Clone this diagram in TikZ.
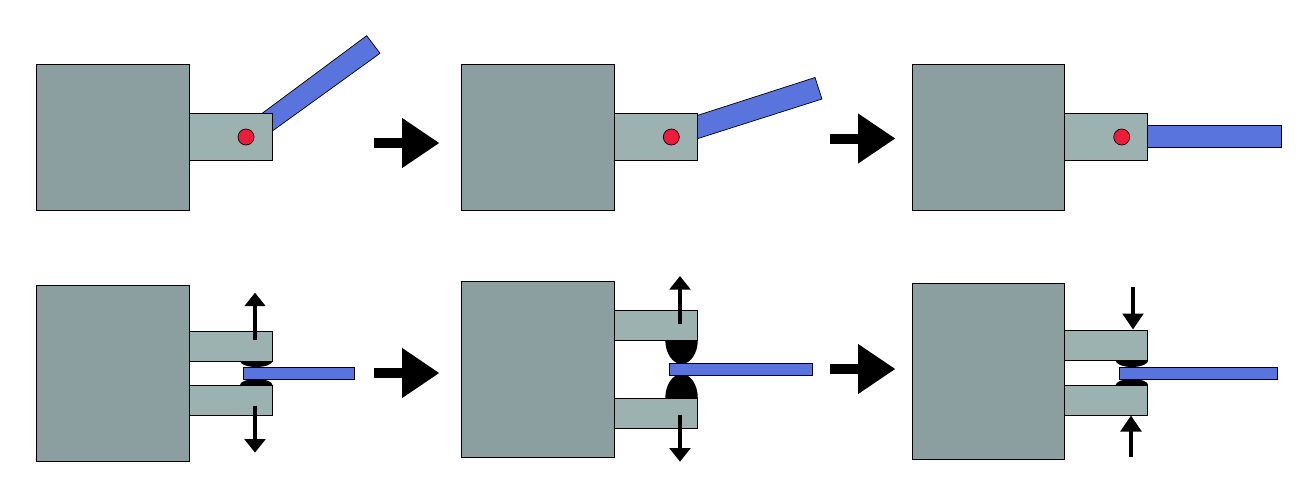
\documentclass[tikz,border=0pt]{standalone}
\usepackage{tikz}
\usetikzlibrary{arrows.meta}
\definecolor{basegrey}{RGB}{140,159,160}
\definecolor{armgrey}{RGB}{155,178,176}
\definecolor{bladeblue}{RGB}{90,116,222}
\definecolor{pinred}{RGB}{238,28,58}
\tikzset{
  basebox/.style={draw=black, line width=0.7pt, fill=basegrey},
  armbox/.style={draw=black, line width=0.7pt, fill=armgrey},
  blade/.style={draw=black, line width=0.7pt, fill=bladeblue},
  pinhole/.style={draw=black, line width=0.7pt, fill=pinred},
  blob/.style={fill=black, draw=none},
  bigarrow/.style={-{Triangle[length=37.5pt,width=47.5pt]}, line width=10pt, black},
  smallarrow/.style={-{Triangle[length=13.5pt,width=20.5pt]}, line width=3.8pt, black},
  pressarrow/.style={-{Triangle[length=16pt,width=20.5pt]}, line width=3.8pt, black},
}
% half ellipse: left x, right x, flat side y, tip y
\newcommand{\gripblob}[4]{%
  \pgfmathsetmacro{\xm}{(#1+#2)/2}
  \pgfmathsetmacro{\xa}{#1+0.225*(#2-#1)}
  \pgfmathsetmacro{\xb}{#2-0.225*(#2-#1)}
  \pgfmathsetmacro{\yc}{#3+0.55*(#4-#3)}
  \fill[blob] (#1,#3) .. controls (#1,\yc) and (\xa,#4) .. (\xm,#4)
              .. controls (\xb,#4) and (#2,\yc) .. (#2,#3) -- cycle;
}
\begin{document}
\begin{tikzpicture}[x=1pt, y=-1pt]
  \useasboundingbox (0,0) rectangle (1299,491);

  % ---- top row: blades go behind the arms ----
  \draw[blade] (246.6,124.9) -- (366.7,35.7) -- (380,53.3) -- (255.9,142.9) -- cycle;
  \draw[blade] (677,122) -- (815,77.5) -- (822,99) -- (677,145.2) -- cycle;
  \draw[blade] (1130,125) rectangle (1281,147);
  \foreach \dx in {0,425.3,875.7} {
    \begin{scope}[shift={(\dx,0)}]
      \draw[basebox] (36.5,64) rectangle (189,210);
      \draw[armbox] (189,113) rectangle (272,160.5);
      \draw[pinhole] (246,137) circle (8pt);
    \end{scope}
  }

  % ---- bottom row ----
  \foreach \dx/\ytop/\ybot/\yupa/\yupb/\ylowa/\ylowb/\tipa/\tipb in {
      0/285.5/461/331/361/385/415/367/379,
      425.3/281/457.5/310/340/398/428.3/364/374,
      875.7/283/459/330.5/360.5/385/415/367/379} {
    \begin{scope}[shift={(\dx,0)}]
      \draw[basebox] (36.5,\ytop) rectangle (189,\ybot);
      \draw[armbox] (189,\yupa) rectangle (272,\yupb);
      \draw[armbox] (189,\ylowa) rectangle (272,\ylowb);
      \gripblob{240}{272.5}{\yupb}{\tipa}
      \gripblob{240}{272.5}{\ylowa}{\tipb}
    \end{scope}
  }
  \draw[blade] (243.5,367) rectangle (354.5,379);
  \draw[blade] (669,363.3) rectangle (812,375.3);
  \draw[blade] (1119,367) rectangle (1277,379);

  % ---- small arrows ----
  \draw[smallarrow] (255,340) -- (255,292.7);
  \draw[smallarrow] (255,405.7) -- (255,452.7);
  \draw[smallarrow] (680,323.5) -- (680,276);
  \draw[smallarrow] (680,414.5) -- (680,461.7);
  \draw[pressarrow] (1133,287) -- (1133,329.5);
  \draw[pressarrow] (1131,457) -- (1131,415.5);

  % ---- big arrows between the panels ----
  \draw[bigarrow] (374,143) -- (439.5,143);
  \draw[bigarrow] (830,138.5) -- (895.5,138.5);
  \draw[bigarrow] (374,373) -- (439.5,373);
  \draw[bigarrow] (830,369) -- (895.5,369);
\end{tikzpicture}
\end{document}
